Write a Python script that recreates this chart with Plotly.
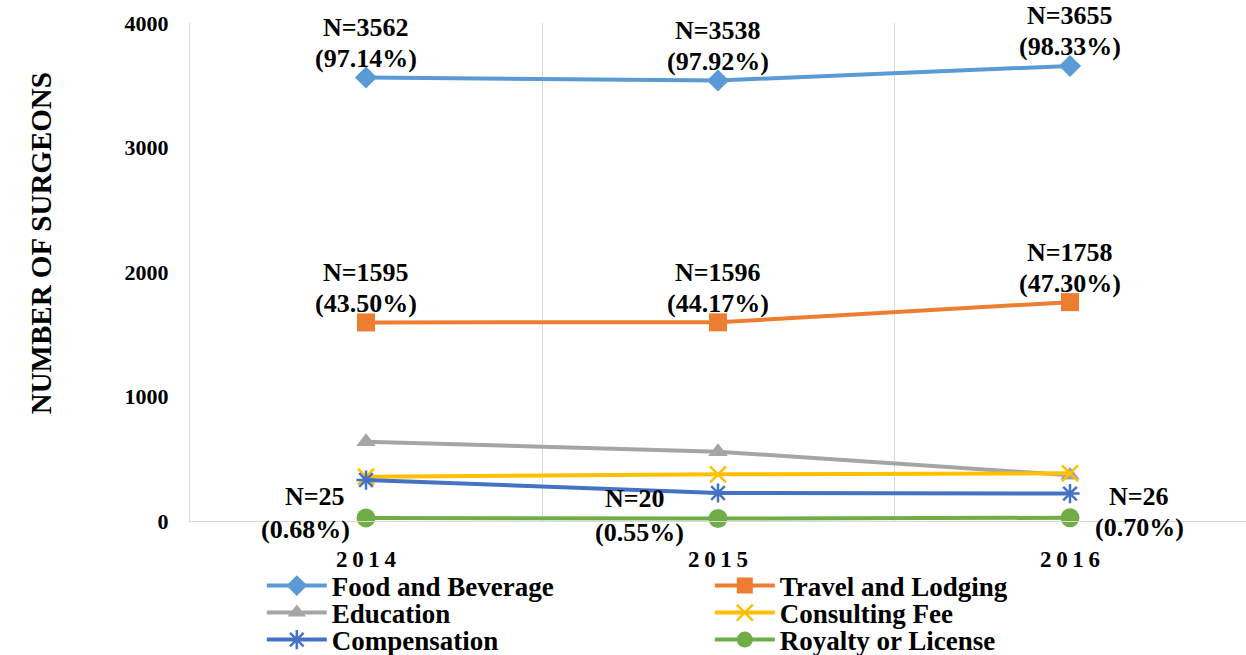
import plotly.graph_objects as go

years = ["2014", "2015", "2016"]
series_names = ["Food and Beverage", "Travel and Lodging", "Education",
                "Consulting Fee", "Compensation", "Royalty or License"]
food = [3562, 3538, 3655]
travel = [1595, 1596, 1758]
education = [637, 557, 368]
consulting = [356, 375, 383]
compensation = [329, 225, 220]
royalty = [25, 20, 26]

food_pct = ["97.14%", "97.92%", "98.33%"]
travel_pct = ["43.50%", "44.17%", "47.30%"]
royalty_pct = ["0.68%", "0.55%", "0.70%"]

y_ticks = [0, 1000, 2000, 3000, 4000]

FONT = "Liberation Serif"
colors = ["#5B9BD5", "#ED7D31", "#A5A5A5", "#FFC000", "#4472C4", "#70AD47"]
symbols = ["diamond", "square", "triangle-up", "x-thin", "asterisk", "circle"]
msizes = [17, 18, 17, 16, 16, 19]
legends = ["legend", "legend", "legend2", "legend2", "legend3", "legend3"]
data = [food, travel, education, consulting, compensation, royalty]

fig = go.Figure()
for name, vals, c, s, ms, lg in zip(series_names, data, colors, symbols, msizes, legends):
    marker = dict(symbol=s, size=ms, color=c)
    if s in ("x-thin", "asterisk"):
        marker["line"] = dict(color=c, width=2.5)
    else:
        marker["line"] = dict(width=0)
    fig.add_trace(go.Scatter(x=years, y=vals, mode="lines+markers", name=name,
                             line=dict(color=c, width=4), marker=marker,
                             legend=lg, cliponaxis=False))

ann_font = dict(family=FONT, size=26, color="black", weight="bold")

# labels above Food and Travel (x given as category index)
for vals, pcts in ((food, food_pct), (travel, travel_pct)):
    for i, (v, p) in enumerate(zip(vals, pcts)):
        fig.add_annotation(x=i, y=v, text=f"N={v}", showarrow=False,
                           yanchor="middle", yshift=50, font=ann_font)
        fig.add_annotation(x=i, y=v, text=f"({p})", showarrow=False,
                           yanchor="middle", yshift=19, font=ann_font)

# Royalty labels (offset beside the point)
roy_dx_n = [-51, -83, 69]
roy_dx_p = [-61, -79, 69]
roy_dy_n = [21, 20, 21]
roy_dy_p = [-12, -14, -10]
for i, (v, p) in enumerate(zip(royalty, royalty_pct)):
    fig.add_annotation(x=i, y=v, text=f"N={v}", showarrow=False,
                       xshift=roy_dx_n[i], yshift=roy_dy_n[i], font=ann_font)
    fig.add_annotation(x=i, y=v, text=f"({p})", showarrow=False,
                       xshift=roy_dx_p[i], yshift=roy_dy_p[i], font=ann_font)

# y axis title
fig.add_annotation(xref="paper", yref="paper", x=-0.158, y=0.558,
                   text="NUMBER OF SURGEONS", textangle=-90, showarrow=False,
                   font=dict(family=FONT, size=29, color="black", weight="bold"))

year_ticktext = ["\u2009".join(list(y)) for y in years]

leg_common = dict(orientation="h", xanchor="left", yanchor="middle",
                  font=dict(family=FONT, size=27, color="black", weight="bold"),
                  bgcolor="rgba(0,0,0,0)", itemwidth=60, entrywidth=373,
                  entrywidthmode="pixels", tracegroupgap=0, traceorder="normal")

fig.update_layout(
    width=1246, height=655,
    margin=dict(l=190, r=0, t=23, b=134, autoexpand=False),
    paper_bgcolor="white", plot_bgcolor="white",
    showlegend=True,
    legend=dict(x=0.068, y=-0.1305, **leg_common),
    legend2=dict(x=0.068, y=-0.1847, **leg_common),
    legend3=dict(x=0.068, y=-0.239, **leg_common),
    xaxis=dict(type="category", range=[-0.5, 2.5], tickson="boundaries",
               showgrid=True, gridcolor="#d9d9d9", gridwidth=1,
               showline=True, linecolor="#d9d9d9", linewidth=1,
               ticks="", tickvals=years, ticktext=year_ticktext,
               ticklabelstandoff=17,
               tickfont=dict(family=FONT, size=23, color="black", weight="bold"),
               zeroline=False),
    yaxis=dict(range=[0, 4000], tickvals=y_ticks, showgrid=False,
               showline=True, linecolor="#d9d9d9", linewidth=1,
               ticks="", ticklabelstandoff=16, zeroline=False,
               tickfont=dict(family=FONT, size=22, color="black", weight="bold")),
)

fig.write_html("out.html")
